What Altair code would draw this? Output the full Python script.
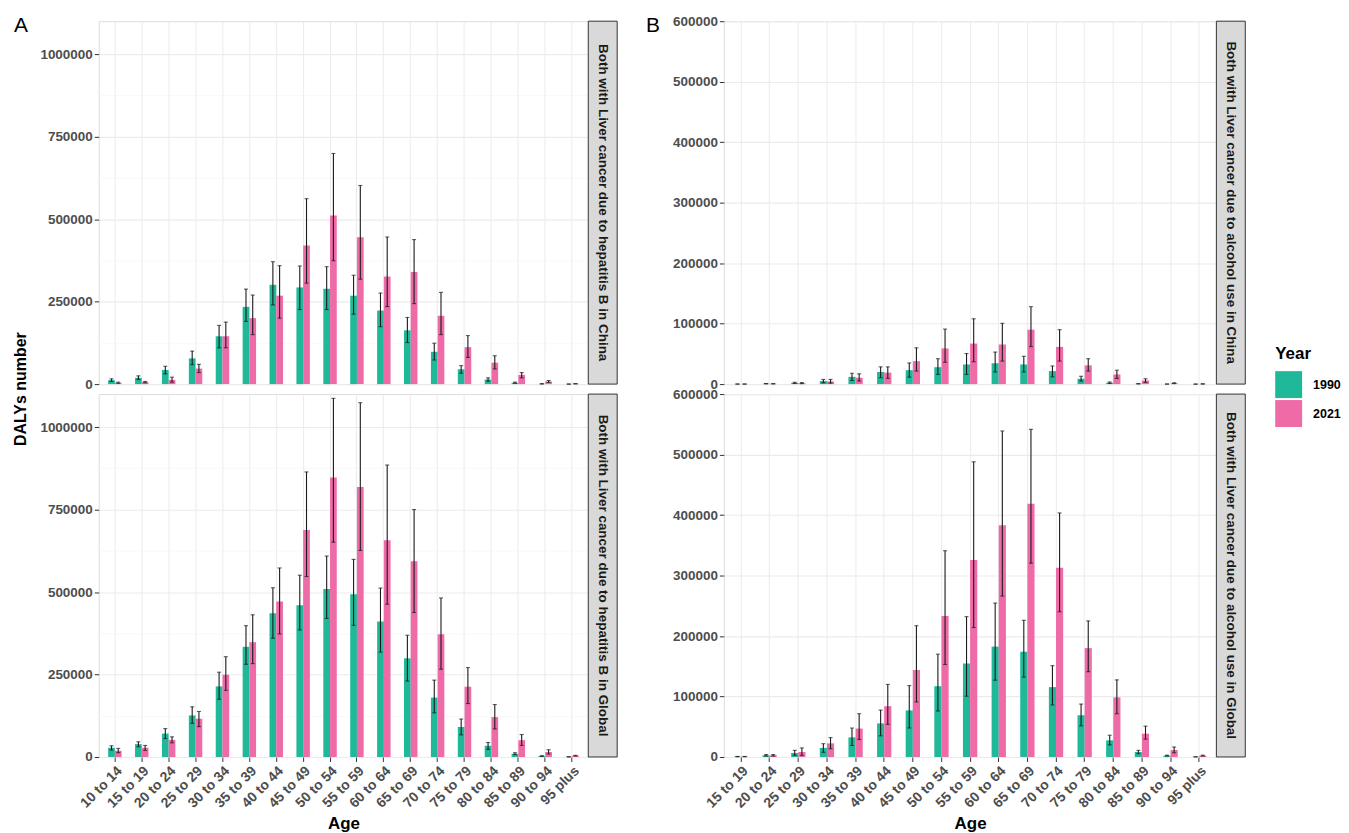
import altair as alt
import pandas as pd

# ---------------- data ----------------
ages_hb = ["10 to 14", "15 to 19", "20 to 24", "25 to 29", "30 to 34", "35 to 39",
           "40 to 44", "45 to 49", "50 to 54", "55 to 59", "60 to 64", "65 to 69",
           "70 to 74", "75 to 79", "80 to 84", "85 to 89", "90 to 94", "95 plus"]
ages_alc = ages_hb[1:]
years = ["1990", "2021"]

# Liver cancer due to hepatitis B, China
hb_china_1990 = [12000, 19000, 43000, 78000, 145000, 234000, 301000, 293000, 289000, 268000, 223000, 163000, 98000, 45000, 14000, 4000, 800, 100]
hb_china_1990_lo = [8000, 14000, 31000, 59000, 110000, 190000, 240000, 226000, 226000, 212000, 174000, 126000, 73000, 33000, 9000, 2500, 500, 50]
hb_china_1990_hi = [16000, 25000, 54000, 100000, 178000, 288000, 371000, 358000, 356000, 330000, 276000, 202000, 124000, 56000, 19000, 6000, 1200, 150]
hb_china_2021 = [4000, 6000, 13000, 47000, 145000, 200000, 268000, 420000, 511000, 445000, 326000, 340000, 207000, 112000, 65000, 28000, 8000, 1000]
hb_china_2021_lo = [2500, 4000, 6000, 35000, 110000, 150000, 200000, 306000, 374000, 318000, 235000, 244000, 150000, 81000, 46000, 19000, 5000, 600]
hb_china_2021_hi = [6000, 8000, 21000, 60000, 188000, 270000, 359000, 562000, 699000, 602000, 446000, 438000, 278000, 147000, 86000, 35000, 11000, 1500]

# Liver cancer due to hepatitis B, Global
hb_global_1990 = [28000, 39000, 71000, 126000, 214000, 334000, 436000, 460000, 509000, 493000, 411000, 299000, 180000, 91000, 34000, 10000, 3000, 500]
hb_global_1990_lo = [21000, 31000, 56000, 102000, 175000, 281000, 360000, 385000, 420000, 399000, 318000, 230000, 134000, 67000, 23000, 7000, 2000, 300]
hb_global_1990_hi = [34000, 46000, 86000, 152000, 257000, 398000, 513000, 551000, 609000, 599000, 512000, 369000, 233000, 115000, 44000, 13000, 4000, 700]
hb_global_2021 = [19000, 28000, 52000, 116000, 249000, 348000, 471000, 688000, 847000, 818000, 657000, 593000, 372000, 213000, 121000, 51000, 15000, 4000]
hb_global_2021_lo = [13000, 20000, 43000, 92000, 202000, 283000, 373000, 547000, 651000, 626000, 463000, 438000, 266000, 162000, 85000, 35000, 9000, 3000]
hb_global_2021_hi = [26000, 35000, 61000, 138000, 304000, 431000, 573000, 864000, 1087000, 1074000, 885000, 750000, 482000, 271000, 159000, 68000, 22000, 5000]

# Liver cancer due to alcohol use, China
alc_china_1990 = [100, 700, 2000, 5000, 12000, 20000, 23000, 28000, 32500, 34500, 32500, 21500, 8800, 2200, 500, 100, 0]
alc_china_1990_lo = [50, 400, 1200, 2200, 6000, 10500, 11500, 16000, 16000, 20000, 20000, 12000, 5000, 1200, 300, 50, 0]
alc_china_1990_hi = [150, 1000, 3000, 7700, 18000, 28500, 35000, 42000, 50500, 53000, 46000, 30000, 13000, 3500, 800, 150, 0]
alc_china_2021 = [100, 500, 1500, 4400, 10500, 19000, 38000, 59000, 67000, 65500, 90000, 61500, 31000, 16000, 6000, 1500, 300]
alc_china_2021_lo = [50, 300, 800, 1600, 5000, 9500, 21500, 36000, 37000, 38000, 62000, 38000, 21500, 9400, 2800, 900, 150]
alc_china_2021_hi = [150, 800, 2500, 7700, 17000, 28500, 60000, 91000, 108000, 100500, 128000, 90000, 42000, 23000, 8800, 2200, 450]

# Liver cancer due to alcohol use, Global
alc_global_1990 = [600, 2700, 6600, 15000, 32500, 55500, 77000, 117000, 154500, 182500, 174000, 115500, 69000, 27500, 8200, 2200, 300]
alc_global_1990_lo = [300, 1500, 2700, 7700, 19000, 35000, 48000, 76000, 100500, 127000, 132000, 86000, 51500, 20000, 5500, 1500, 200]
alc_global_1990_hi = [900, 4000, 11000, 22000, 48000, 77500, 118000, 170000, 232000, 254500, 226000, 151000, 87500, 36000, 11000, 3000, 400]
alc_global_2021 = [600, 2700, 8200, 22500, 47000, 84000, 144000, 233000, 325500, 383000, 418500, 313000, 180000, 98500, 38500, 11500, 2200]
alc_global_2021_lo = [300, 1500, 2700, 13700, 29000, 54000, 91000, 153000, 214000, 266000, 320500, 240000, 141000, 71500, 29500, 7000, 1500]
alc_global_2021_hi = [900, 4000, 15000, 32000, 71500, 120000, 217000, 341000, 488000, 539000, 541700, 403500, 225000, 127500, 51000, 16500, 3000]

strip_labels = {
    "hb_china": "Both with Liver cancer due to hepatitis B in China",
    "hb_global": "Both with Liver cancer due to hepatitis B in Global",
    "alc_china": "Both with Liver cancer due to alcohol use in China",
    "alc_global": "Both with Liver cancer due to alcohol use in Global",
}

TEAL = "#1FB99A"
PINK = "#EE6BA8"
FONT = "Liberation Sans"


def make_df(ages, v90, l90, h90, v21, l21, h21):
    rows = []
    for year, v, l, h in (("1990", v90, l90, h90), ("2021", v21, l21, h21)):
        for a, vv, ll, hh in zip(ages, v, l, h):
            rows.append({"Age": a, "Year": year, "value": vv, "lo": ll, "hi": hh})
    return pd.DataFrame(rows)


df_hb_china = make_df(ages_hb, hb_china_1990, hb_china_1990_lo, hb_china_1990_hi,
                      hb_china_2021, hb_china_2021_lo, hb_china_2021_hi)
df_hb_global = make_df(ages_hb, hb_global_1990, hb_global_1990_lo, hb_global_1990_hi,
                       hb_global_2021, hb_global_2021_lo, hb_global_2021_hi)
df_alc_china = make_df(ages_alc, alc_china_1990, alc_china_1990_lo, alc_china_1990_hi,
                       alc_china_2021, alc_china_2021_lo, alc_china_2021_hi)
df_alc_global = make_df(ages_alc, alc_global_1990, alc_global_1990_lo, alc_global_1990_hi,
                        alc_global_2021, alc_global_2021_lo, alc_global_2021_hi)

H = 364
STRIP_W = 29


def row_chart(df, ages, W, ymax, major, minor, strip, bottom, extras=()):
    yvals = list(range(0, ymax + 1, minor))
    is_major = f"datum.value % {major} === 0"
    x_axis = alt.Axis(
        labels=bottom, ticks=bottom, domain=False, grid=True, bandPosition=0.5,
        gridColor="#EBEBEB", gridWidth=1,
        labelAngle=315, labelAlign="right", labelBaseline="top", labelPadding=2,
        labelFont=FONT, labelFontSize=14, labelFontWeight="bold", labelColor="#4D4D4D",
        tickColor="#333333", tickSize=4.5, tickWidth=1,
        title="Age" if bottom else None, titleFont=FONT, titleFontSize=17,
        titleFontWeight="bold", titleColor="#000000", titlePadding=5,
    )
    y_axis = alt.Axis(
        values=yvals, format="d", labelExpr=f"{is_major} ? datum.label : ''",
        domain=False, grid=True, labelFlush=False,
        gridColor=alt.condition(is_major, alt.value("#EBEBEB"), alt.value("#F3F3F3")),
        gridWidth=alt.condition(is_major, alt.value(1.1), alt.value(0.6)),
        tickOpacity=alt.condition(is_major, alt.value(1), alt.value(0)),
        tickColor="#333333", tickSize=4.5, tickWidth=1, labelPadding=2,
        labelFont=FONT, labelFontSize=13.5, labelFontWeight="bold", labelColor="#4D4D4D",
        title=None,
    )
    x = alt.X("Age:N", sort=ages,
              scale=alt.Scale(domain=ages, paddingInner=0.5, paddingOuter=0.35),
              axis=x_axis)
    xo = alt.XOffset("Year:N", scale=alt.Scale(domain=years, paddingInner=0, paddingOuter=0))
    yscale = alt.Scale(domain=[0, ymax], nice=False, zero=True)

    base = alt.Chart(df)
    bars = base.mark_bar().encode(
        x=x, xOffset=xo,
        y=alt.Y("value:Q", scale=yscale, axis=y_axis),
        color=alt.Color("Year:N", scale=alt.Scale(domain=years, range=[TEAL, PINK]),
                        legend=alt.Legend(
                            title="Year", orient="none", legendX=1180, legendY=326,
                            titleFont=FONT, titleFontSize=17, titleFontWeight="bold",
                            titleColor="#000000", titlePadding=8,
                            labelFont=FONT, labelFontSize=12.5, labelFontWeight="bold",
                            labelColor="#000000", labelOffset=11,
                            symbolType="square", symbolSize=729, symbolStrokeWidth=0,
                            symbolOpacity=1, rowPadding=2)),
    )
    rules = base.mark_rule(color="#1A1A1A", strokeWidth=1.1).encode(
        x=x, xOffset=xo, y=alt.Y("lo:Q", scale=yscale), y2="hi:Q")
    caps = base.transform_fold(["lo", "hi"], as_=["bound", "v"]).mark_tick(
        color="#1A1A1A", thickness=1.1, size=4).encode(
        x=x, xOffset=xo, y=alt.Y("v:Q", scale=yscale))

    sdf = pd.DataFrame({"label": [strip]})
    strip_rect = alt.Chart(sdf).mark_rect(fill="#D9D9D9", stroke="#333333", strokeWidth=1).encode(
        x=alt.value(W), x2=alt.value(W + STRIP_W), y=alt.value(0), y2=alt.value(H))
    strip_text = alt.Chart(sdf).mark_text(
        angle=90, font=FONT, fontSize=13.5, fontWeight="bold", color="#1A1A1A",
        align="center", baseline="middle").encode(
        x=alt.value(W + STRIP_W / 2), y=alt.value(H / 2), text="label:N")

    layers = [bars, rules, caps, strip_rect, strip_text] + list(extras)
    return alt.layer(*layers).properties(width=W, height=H)


def label_text(txt, xpos, ypos, size, weight, angle=0, align="left", baseline="top"):
    d = pd.DataFrame({"t": [txt]})
    kw = dict(font=FONT, fontSize=size, fontWeight=weight, color="#000000",
              align=align, baseline=baseline)
    if angle:
        kw["angle"] = angle
    return alt.Chart(d).mark_text(**kw).encode(
        x=alt.value(xpos), y=alt.value(ypos), text="t:N")


WL = 491
WR = 494

extras_A = [
    label_text("A", -85, -6, 21, "normal"),
    label_text("DALYs number", -78, H + 5, 16, "bold", angle=270, align="center", baseline="middle"),
]
extras_B = [label_text("B", -78, -6, 21, "normal")]

a1 = row_chart(df_hb_china, ages_hb, WL, 1100000, 250000, 125000, strip_labels["hb_china"], False, extras_A)
a2 = row_chart(df_hb_global, ages_hb, WL, 1100000, 250000, 125000, strip_labels["hb_global"], True)
b1 = row_chart(df_alc_china, ages_alc, WR, 600000, 100000, 50000, strip_labels["alc_china"], False, extras_B)
b2 = row_chart(df_alc_global, ages_alc, WR, 600000, 100000, 50000, strip_labels["alc_global"], True)

chart = alt.concat(
    a1, b1, a2, b2, columns=2,
    spacing={"row": 10, "column": 136}, bounds="flush",
).resolve_scale(
    x="independent", y="independent", xOffset="independent"
).properties(
    padding={"left": 4, "top": 4, "right": 0, "bottom": 0},
    background="#FFFFFF",
).configure_view(
    stroke="#333333", strokeWidth=1
).configure(font=FONT)

chart.save("out.html", embed_options={"renderer": "svg", "actions": False})
